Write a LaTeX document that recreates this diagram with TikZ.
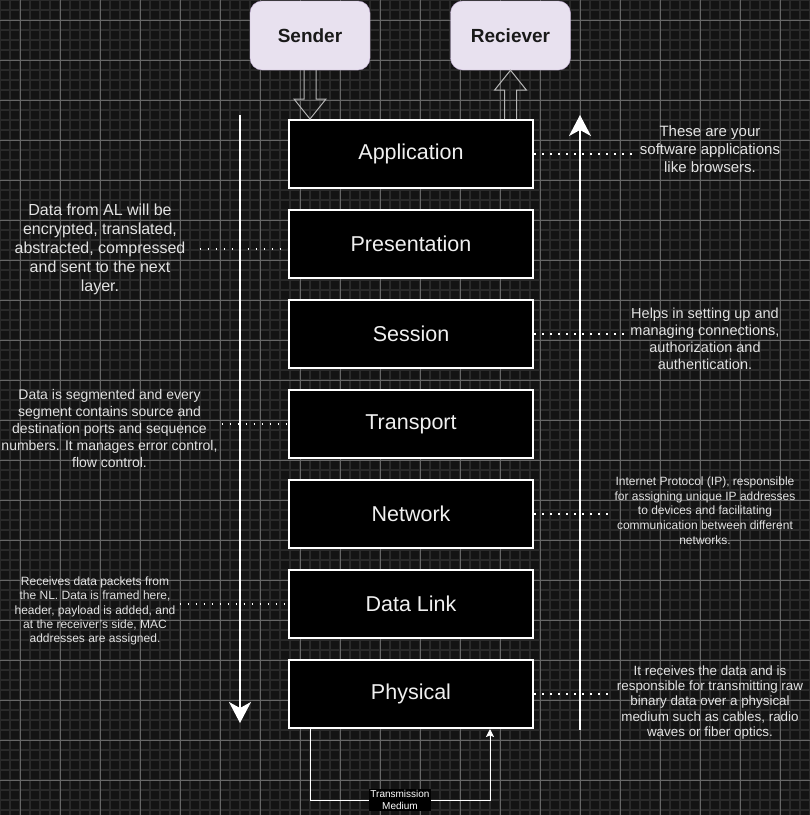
\documentclass[tikz,border=0pt]{standalone}
\usepackage{fontspec}
\setmainfont{Liberation Sans}
\usetikzlibrary{positioning, calc, arrows.meta}
\definecolor{canvas}{HTML}{131313}
\definecolor{minorline}{HTML}{2A2A2A}
\definecolor{majorline}{HTML}{666666}
\definecolor{lavender}{HTML}{E8E1EF}
\definecolor{lavenderedge}{HTML}{B9A3CB}
\definecolor{notegray}{HTML}{E2E2E2}
\definecolor{hollowgray}{HTML}{B4B4B4}
\tikzset{layer/.style={draw=white, line width=2pt, fill=black, text=white!94!black, minimum width=244pt, minimum height=68pt, font=\fontsize{21.5}{26}\selectfont}}
\tikzset{endpoint/.style={draw=lavenderedge, fill=lavender, rounded corners=12pt, minimum width=120pt, minimum height=69pt, text=black!90, font=\bfseries\fontsize{19}{23}\selectfont}}
\tikzset{note/.style={align=center, text=notegray, inner sep=4pt}}
\tikzset{dotline/.style={draw=white, line width=1.6pt, dash pattern=on 1.6pt off 6.4pt}}
\tikzset{hollow/.style={draw=hollowgray, line width=1pt}}
\tikzset{flow/.style={draw=white, line width=1.3pt, -{Stealth[length=21pt, width=22pt, inset=6pt]}}}
\tikzset{medium/.style={draw=white, line width=1pt, -{Stealth[length=8pt, width=8pt, inset=1.5pt]}}}

\begin{document}
\begin{tikzpicture}[x=1pt, y=-1pt]
      % canvas and grid
      \fill[canvas] (0,0) rectangle (810,815);
      \useasboundingbox (0,0) rectangle (810,815);
      \foreach \x in {0,10,...,810}
        \draw[minorline, line width=1.5pt] (\x,0) -- (\x,815);
      \foreach \y in {0,10,...,810}
        \draw[minorline, line width=1.5pt] (0,\y) -- (810,\y);
      \foreach \x in {20,60,...,780}
        \draw[majorline, line width=1pt] (\x,0) -- (\x,815);
      \foreach \y in {20,60,...,780}
        \draw[majorline, line width=1pt] (0,\y) -- (810,\y);

      \node[endpoint] (sender) at (310,35.5) {Sender};
      \node[endpoint] (receiver) at (510.5,35.5) {Reciever};

      \node[layer] (app) at (411,154) {Application};
      \node[layer, below=20pt of app] (pres) {Presentation};
      \node[layer, below=20pt of pres] (sess) {Session};
      \node[layer, below=20pt of sess] (trans) {Transport};
      \node[layer, below=20pt of trans] (net) {Network};
      \node[layer, below=20pt of net] (dl) {Data Link};
      \node[layer, below=20pt of dl] (phy) {Physical};

      % hollow block arrows
      \draw[hollow] ($(sender.south)+(-6,0)$) -- ($(sender.south |- app.north)+(-6,-20)$)
        -- ++(-10,0) -- (sender.south |- app.north) -- ++(16,-20) -- ++(-10,0)
        -- ($(sender.south)+(6,0)$);
      \draw[hollow] ($(receiver.south |- app.north)+(-6,0)$) -- ($(receiver.south)+(-6,20)$)
        -- ++(-10,0) -- (receiver.south) -- ++(16,20) -- ++(-10,0)
        -- ($(receiver.south |- app.north)+(6,0)$);

      \coordinate (downtop) at (240,115);
      \coordinate (downend) at (240,723);
      \draw[flow] (downtop) -- (downend);
      \coordinate (upbottom) at (580,730);
      \coordinate (uptop) at (580,115);
      \draw[flow] (upbottom) -- (uptop);

      % notes
      \node[note, font=\fontsize{15}{18}\selectfont] (appnote) at (710,149)
        {These are your\\software applications\\like browsers.};
      \draw[dotline] (app.east) -- (app.east -| appnote.west);

      \node[note, font=\fontsize{16}{19}\selectfont] (presnote) at (100,249)
        {Data from AL will be\\encrypted, translated,\\abstracted, compressed\\and sent to the next\\layer.};
      \draw[dotline, shorten <=10pt] (presnote.east) -- (presnote.east -| pres.west);

      \node[note, font=\fontsize{14.5}{17}\selectfont] (sessnote) at (705,339)
        {Helps in setting up and\\managing connections,\\authorization and\\authentication.};
      \draw[dotline] (sess.east) -- (sess.east -| sessnote.west);

      \node[note, font=\fontsize{14}{16.8}\selectfont] (transnote) at (109.5,428.5)
        {Data is segmented and every\\segment contains source and\\destination ports and sequence\\numbers. It manages error control,\\flow control.};
      \draw[dotline] (transnote.east |- trans.west) -- (trans.west);

      \node[note, font=\fontsize{12}{14.7}\selectfont] (netnote) at (705,510.5)
        {Internet Protocol (IP), responsible\\for assigning unique IP addresses\\to devices and facilitating\\communication between different\\networks.};
      \draw[dotline] (net.east) -- (net.east -| netnote.west);

      \node[note, font=\fontsize{12}{14.2}\selectfont] (dlnote) at (95,611)
        {Receives data packets from\\the NL. Data is framed here,\\header, payload is added, and\\at the receiver's side, MAC\\addresses are assigned.};
      \draw[dotline] (dlnote.east |- dl.west) -- (dl.west);

      \node[note, font=\fontsize{13.4}{15.4}\selectfont] (phynote) at (710,702.5)
        {It receives the data and is\\responsible for transmitting raw\\binary data over a physical\\medium such as cables, radio\\waves or fiber optics.};
      \draw[dotline] (phy.east) -- (phy.east -| phynote.west);

      % transmission medium loop
      \draw[medium] ($(phy.south)+(-101,0)$) -- ++(0,71)
        -| node[pos=0.25, fill=black, text=white, inner sep=1.5pt, align=center,
                font=\fontsize{10}{12.5}\selectfont] (mediumlabel) {Transmission\\Medium}
        ($(phy.south)+(79,0)$);
\end{tikzpicture}
\end{document}
